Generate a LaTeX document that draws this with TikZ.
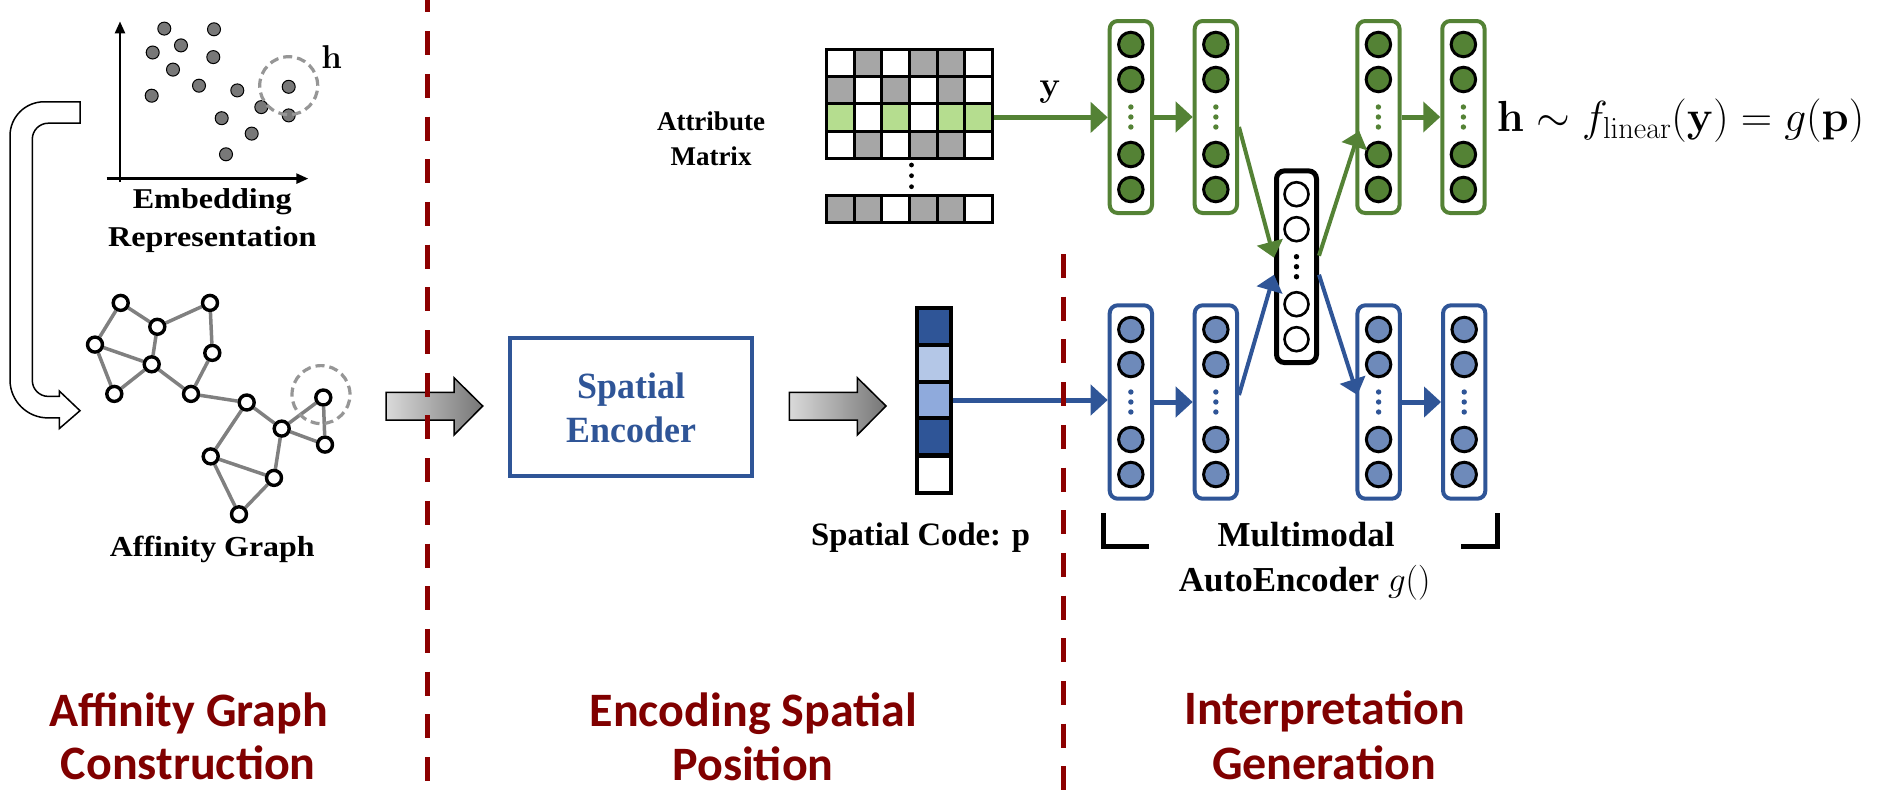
\RequirePackage{fix-cm}
\documentclass[tikz,border=0pt]{standalone}
\usepackage[no-math]{fontspec}
\setmainfont{Liberation Serif}
\newfontfamily\calib{Carlito}
\usetikzlibrary{arrows.meta,calc,backgrounds}
\definecolor{phasered}{RGB}{128,0,0}
\definecolor{dashred}{RGB}{140,0,0}
\definecolor{lblue}{RGB}{47,85,151}
\definecolor{cblue}{RGB}{110,138,186}
\definecolor{sclight}{RGB}{180,199,231}
\definecolor{scmid}{RGB}{143,170,220}
\definecolor{lgreen}{RGB}{84,130,53}
\definecolor{mgray}{RGB}{166,166,166}
\definecolor{mgreen}{RGB}{181,221,143}
\definecolor{sgray}{RGB}{120,120,120}
\definecolor{ringgray}{RGB}{150,150,150}
\definecolor{egray}{RGB}{128,128,128}
\definecolor{shadel}{RGB}{218,218,218}
\definecolor{shader}{RGB}{118,118,118}
\newcommand{\myfs}[1]{\fontsize{#1pt}{#1pt}\selectfont}
\newcommand{\mylayer}[4]{%
  \node[#4box] (#1) at (#2,#3) {};
  \foreach \k/\o in {1/-72.5,2/-37.5,3/37.5,4/72.5}
    \node[#4neuron] (#1-\k) at ($(#1.center)+(0,\o)$) {};
  \foreach \k/\o in {1/-10,2/0,3/10}
    \node[#4dot] (#1-d\k) at ($(#1.center)+(0,\o)$) {};
}
\begin{document}
\begin{tikzpicture}[x=1pt,y=-1pt,
  sdot/.style={circle,draw=black,line width=1pt,fill=sgray,minimum size=13pt,inner sep=0pt},
  hring/.style={circle,draw=ringgray,dash pattern=on 9pt off 5pt,line width=3.2pt,minimum size=58pt,inner sep=0pt},
  gnode/.style={circle,draw=black,line width=3.4pt,fill=white,minimum size=15pt,inner sep=0pt},
  gedge/.style={draw=egray,line width=3.5pt},
  axisarrow/.style={draw=black,line width=2.5pt,-{Triangle[length=12pt,width=10pt]}},
  hollow/.style={draw=black,line width=1.5pt,fill=white},
  blockarrow/.style={draw=black,line width=1.5pt,left color=shadel,right color=shader},
  divider/.style={draw=dashred,line width=5pt,dash pattern=on 24pt off 18.7pt},
  txt/.style={inner sep=0pt,anchor=base,font=\bfseries},
  phase/.style={inner sep=0pt,anchor=base,text=phasered,font=\calib\bfseries\myfs{48}},
  cell/.style={draw=black,line width=3pt,minimum width=27.6pt,minimum height=27.25pt,inner sep=0pt},
  sccell/.style={draw=black,line width=4pt,minimum width=33.7pt,minimum height=36.7pt,inner sep=0pt},
  grnbox/.style={draw=lgreen,line width=4pt,rounded corners=8pt,fill=white,minimum width=42.3pt,minimum height=192pt,inner sep=0pt},
  grnneuron/.style={circle,draw=black,line width=3pt,fill=lgreen,minimum size=24.5pt,inner sep=0pt},
  grndot/.style={circle,fill=lgreen,minimum size=5.4pt,inner sep=0pt},
  blubox/.style={draw=lblue,line width=4pt,rounded corners=8pt,fill=white,minimum width=42.3pt,minimum height=193.4pt,inner sep=0pt},
  bluneuron/.style={circle,draw=black,line width=3pt,fill=cblue,minimum size=24.5pt,inner sep=0pt},
  bludot/.style={circle,fill=lblue,minimum size=5.4pt,inner sep=0pt},
  midbox/.style={draw=black,line width=5pt,rounded corners=8pt,fill=white,minimum width=40pt,minimum height=191.7pt,inner sep=0pt},
  midneuron/.style={circle,draw=black,line width=2.6pt,fill=white,minimum size=24pt,inner sep=0pt},
  middot/.style={circle,fill=black,minimum size=5.4pt,inner sep=0pt},
  garrow/.style={draw=lgreen,line width=5pt,-{Triangle[length=17pt,width=30pt]}},
  barrow/.style={draw=lblue,line width=5pt,-{Triangle[length=17pt,width=30pt]}},
  darrowg/.style={draw=lgreen,line width=4pt,-{Triangle[length=16pt,width=26pt]}},
  darrowb/.style={draw=lblue,line width=4pt,-{Triangle[length=16pt,width=26pt]}},
  bracket/.style={draw=black,line width=5pt}
]
\useasboundingbox (0,0) rectangle (1887,790);

% ---------- embedding scatter ----------
\draw[axisarrow] (120,182) -- (120,21.4);
\draw[axisarrow] (106.7,178.6) -- (308.3,178.6);
\foreach \n/\px/\py in {1/164.3/28.6,2/214/29.3,3/152.7/52.5,4/181/45.4,5/213.3/57.1,
  6/173/69.6,7/199/85.7,8/237.3/90.4,9/151.7/95.7,10/288.7/86.8,11/261.3/107.1,
  12/288.7/115.4,13/221.7/118.2,14/251.7/133.6,15/226/154.3}
  \node[sdot] (s\n) at (\px,\py) {};
\node[hring] (hring) at (288.7,85.7) {};
\node[txt,font=\myfs{33}] (hlab) at (331.7,68.5) {$\mathbf{h}$};
\node[txt,font=\bfseries\myfs{28.7}] (emb1) at (212.3,208) {\scalebox{1.12}[1]{Embedding}};
\node[txt,font=\bfseries\myfs{28.7}] (emb2) at (212.3,246.4) {\scalebox{1.12}[1]{Representation}};

% ---------- hollow bent arrow ----------
\path[hollow] (80,101.8) -- (44,101.8) arc[start angle=270,end angle=180,radius=34]
  -- (10,379.9) arc[start angle=180,end angle=90,radius=38]
  -- (59.3,417.9) -- (59.3,428.6) -- (80,410.7) -- (59.3,391) -- (59.3,396.4)
  -- (48.3,396.4) arc[start angle=90,end angle=180,radius=16]
  -- (32.3,139.2) arc[start angle=180,end angle=270,radius=16]
  -- (80,123.2) -- cycle;

% ---------- affinity graph ----------
\foreach \n/\px/\py in {a/120.7/302.9,b/210/302.9,c/157.3/326.8,d/95/344.6,
  e/212.3/352.9,f/151.7/364.3,g/114.3/393.9,h/191/393.9,i/246.7/402.5,
  j/323.3/397.5,k/281.7/428.6,l/325/444.6,m/210.7/456.4,n/274/477.9,o/239/514.3}
  \node[gnode] (n\n) at (\px,\py) {};
\begin{pgfonlayer}{background}
\foreach \u/\v in {a/c,a/d,c/b,c/f,d/f,d/g,g/f,f/h,b/e,e/h,h/i,i/k,i/m,k/j,j/l,k/l,k/n,m/n,m/o,o/n}
  \draw[gedge] (n\u) -- (n\v);
\end{pgfonlayer}
\node[hring] (jring) at (321,394.6) {};
\node[txt,font=\bfseries\myfs{29}] (aglab) at (212.3,556) {\scalebox{1.1}[1]{Affinity Graph}};

% ---------- block arrows ----------
\path[blockarrow] (386,392.3) -- (454,392.3) -- (454,377.7) -- (482.7,406) -- (454,435) -- (454,420) -- (386,420) -- cycle;
\path[blockarrow] (789.3,392.3) -- (857.3,392.3) -- (857.3,377.7) -- (886,406) -- (857.3,435) -- (857.3,420) -- (789.3,420) -- cycle;

% ---------- spatial encoder ----------
\node[draw=lblue,line width=4pt,minimum width=241.7pt,minimum height=138.6pt,inner sep=0pt] (enc) at (631.15,407) {};
\node[txt,text=lblue,font=\bfseries\myfs{37}] (enc1) at (631.7,398) {\scalebox{0.97}[1]{Spatial}};
\node[txt,text=lblue,font=\bfseries\myfs{37}] (enc2) at (631.7,442.7) {\scalebox{0.97}[1]{Encoder}};

% ---------- spatial code ----------
\foreach \k/\py/\col in {1/326.65/lblue,2/363.35/sclight,3/400/scmid,4/436.65/lblue,5/474.15/white}
  \node[sccell,fill=\col] (sc\k) at (933.85,\py) {};
\node[txt,font=\bfseries\myfs{32.7}] (sclab) at (920.7,545) {Spatial Code: p};

% ---------- attribute matrix ----------
\foreach \c/\col in {1/white,2/mgray,3/white,4/mgray,5/mgray,6/white}
  \node[cell,fill=\col] (m-1-\c) at (826.7+27.6*\c-13.8,62.9) {};
\foreach \c/\col in {1/mgray,2/white,3/mgray,4/white,5/mgray,6/white}
  \node[cell,fill=\col] (m-2-\c) at (826.7+27.6*\c-13.8,90.2) {};
\foreach \c/\col in {1/mgreen,2/white,3/mgreen,4/white,5/mgreen,6/mgreen}
  \node[cell,fill=\col] (m-3-\c) at (826.7+27.6*\c-13.8,117.4) {};
\foreach \c/\col in {1/white,2/mgray,3/white,4/mgray,5/mgray,6/white}
  \node[cell,fill=\col] (m-4-\c) at (826.7+27.6*\c-13.8,144.7) {};
\foreach \c/\col in {1/mgray,2/mgray,3/white,4/mgray,5/mgray,6/white}
  \node[cell,fill=\col,minimum height=27.7pt] (m-5-\c) at (826.7+27.6*\c-13.8,208.85) {};
\foreach \k/\py in {1/165,2/175.7,3/186.7}
  \node[circle,fill=black,minimum size=4.8pt,inner sep=0pt] (mdot\k) at (911.5,\py) {};
\node[txt,font=\bfseries\myfs{27}] (att1) at (711,130) {Attribute};
\node[txt,font=\bfseries\myfs{27}] (att2) at (711,165) {Matrix};
\node[txt,font=\myfs{35}] (ylab) at (1050,96.5) {$\mathbf{y}$};

% ---------- autoencoder layers ----------
\mylayer{G1}{1130.85}{117}{grn}
\mylayer{G2}{1215.85}{117}{grn}
\mylayer{G3}{1378.4}{117}{grn}
\mylayer{G4}{1463.4}{117}{grn}
\mylayer{B1}{1130.85}{402}{blu}
\mylayer{B2}{1215.85}{402}{blu}
\mylayer{B3}{1378.6}{402}{blu}
\mylayer{B4}{1464.2}{402}{blu}
\mylayer{M}{1296.5}{266.7}{mid}

% ---------- connectors ----------
\draw[garrow] (m-3-6.east) -- (m-3-6.east -| G1.west);
\draw[garrow] (G1.east) -- (G2.west);
\draw[garrow] (G3.east) -- (G4.west);
\draw[barrow] (sc3.east) -- (sc3.east -| B1.west);
\draw[barrow] (B1.east) -- (B2.west);
\draw[barrow] (B3.east) -- (B4.west);
\draw[darrowg] ($(G2.east)+(0,10)$) -- ($(M.west)+(0,-9)$);
\draw[darrowg] ($(M.east)+(0,-11)$) -- ($(G3.west)+(4,14)$);
\draw[darrowb] ($(B2.east)+(0,-7)$) -- ($(M.west)+(0,8)$);
\draw[darrowb] ($(M.east)+(0,8)$) -- ($(B3.west)+(2,-7)$);

% ---------- formula ----------
\node[txt,anchor=base west,font=\myfs{43.5}] (formula) at (1496.7,131.7)
  {$\mathbf{h}\sim f_{\mathrm{linear}}(\mathbf{y})=g(\mathbf{p})$};

% ---------- brackets and AE label ----------
\draw[bracket] (1103.3,513.3) -- (1103.3,546.7) -- (1149.3,546.7);
\draw[bracket] (1461,546.7) -- (1497.3,546.7) -- (1497.3,512.7);
\node[txt,font=\bfseries\myfs{35}] (ae1) at (1306,546.7) {Multimodal};
\node[txt,font=\bfseries\myfs{35}] (ae2) at (1304.7,591.7) {AutoEncoder $g()$};

% ---------- dividers ----------
\draw[divider,dash phase=11.6pt] (427.7,0) -- (427.7,790);
\draw[divider] (1063.3,254) -- (1063.3,790);

% ---------- phase labels ----------
\node[phase] (ph1a) at (188.5,726) {Affinity Graph};
\node[phase] (ph1b) at (188.3,779) {Construction};
\node[phase] (ph2a) at (753.3,726) {Encoding Spatial};
\node[phase] (ph2b) at (753,780) {Position};
\node[phase] (ph3a) at (1324.5,724) {Interpretation};
\node[phase] (ph3b) at (1324,779.5) {Generation};
\end{tikzpicture}
\end{document}
